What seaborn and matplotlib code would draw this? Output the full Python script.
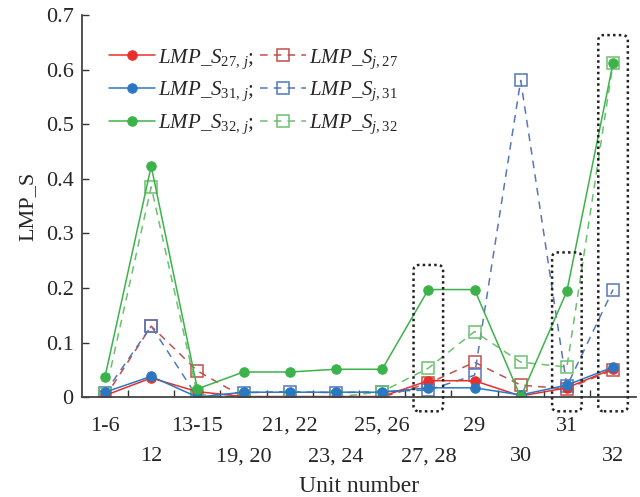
import matplotlib
matplotlib.use("Agg")
import matplotlib.pyplot as plt
import numpy as np
import seaborn as sns
from matplotlib.patches import FancyBboxPatch
from matplotlib.ticker import FixedLocator, FuncFormatter

# unit groups on the x axis
units = ["1-6", "12", "13-15", "19, 20", "21, 22", "23, 24", "25, 26",
         "27, 28", "29", "30", "31", "32"]

# LMP_S values
s27_j = [0.003, 0.035, 0.010, 0.001, 0.001, 0.001, 0.001, 0.030, 0.030, 0.002, 0.017, 0.052]
s31_j = [0.009, 0.038, 0.000, 0.009, 0.009, 0.009, 0.009, 0.017, 0.017, 0.004, 0.022, 0.055]
s32_j = [0.037, 0.423, 0.015, 0.046, 0.046, 0.051, 0.051, 0.197, 0.197, 0.000, 0.194, 0.612]
sj_27 = [0.000, 0.130, 0.048, 0.000, 0.000, 0.000, 0.000, 0.025, 0.064, 0.022, 0.015, 0.050]
sj_31 = [0.008, 0.130, 0.000, 0.008, 0.010, 0.008, 0.010, 0.013, 0.040, 0.580, 0.020, 0.197]
sj_32 = [0.005, 0.385, 0.005, 0.000, 0.000, 0.000, 0.010, 0.053, 0.120, 0.064, 0.055, 0.612]

# highlighted unit groups (dotted boxes)
boxed = ["27, 28", "31", "32"]
box_tops = [0.242, 0.265, 0.663]

sns.set_theme(style="ticks")
plt.rcParams["font.family"] = ["Liberation Serif", "DejaVu Serif"]
plt.rcParams["mathtext.fontset"] = "custom"
plt.rcParams["mathtext.rm"] = "Liberation Serif"
plt.rcParams["mathtext.it"] = "Liberation Serif:italic"

fig = plt.figure(figsize=(6.4, 4.97), dpi=100)
ax = fig.add_axes([0.128, 0.201, 0.866, 0.769])

x = np.arange(len(units))

solid = [
    (s27_j, "#e8302a", r"$LMP\_S_{27,\,j}$;"),
    (s31_j, "#2b78c2", r"$LMP\_S_{31,\,j}$;"),
    (s32_j, "#3cb34a", r"$LMP\_S_{32,\,j}$;"),
]
dashed = [
    (sj_27, "#c0504d", r"$LMP\_S_{j,27}$"),
    (sj_31, "#5577bb", r"$LMP\_S_{j,31}$"),
    (sj_32, "#6cc070", r"$LMP\_S_{j,32}$"),
]

for vals, color, label in dashed:
    sns.lineplot(x=x, y=vals, ax=ax, color=color, linestyle=(0, (5, 4)),
                 linewidth=1.1, marker="s", markersize=8, markerfacecolor="none",
                 markeredgecolor=color, markeredgewidth=1.1, label=label)
for vals, color, label in solid:
    sns.lineplot(x=x, y=vals, ax=ax, color=color, linewidth=1.1,
                 marker="o", markersize=6.8, markeredgecolor=color, label=label)

# dotted boxes around the key units
for name, top in zip(boxed, box_tops):
    i = units.index(name)
    box = FancyBboxPatch((i - 0.32, -0.026), 0.64, top + 0.026,
                         boxstyle="round,pad=0,rounding_size=0.12",
                         mutation_aspect=0.084, fill=False,
                         edgecolor="#222222", linewidth=1.8,
                         linestyle=(0, (1, 1.3)), clip_on=False, zorder=5)
    ax.add_patch(box)

ax.set_xlim(-0.5, len(units) - 0.5)
ax.set_ylim(0, 0.7)

# two staggered rows of unit labels
ax.set_xticks(x[::2])
ax.set_xticklabels(units[::2])
ax.xaxis.set_minor_locator(FixedLocator(np.arange(0.5, len(units) - 1, 1)))
ax.tick_params(axis="x", which="major", length=0, pad=14, labelsize=16)
ax.tick_params(axis="x", which="minor", direction="in", length=5, width=1, color="#333333")
sec = ax.secondary_xaxis("bottom")
sec.set_xticks(x[1::2])
sec.set_xticklabels(units[1::2])
sec.tick_params(axis="x", length=0, pad=36, labelsize=16)
sec.spines["bottom"].set_visible(False)

ax.set_yticks(np.arange(0, 0.71, 0.1))
ax.yaxis.set_major_formatter(FuncFormatter(lambda v, _: f"{v:.1f}" if v > 0.01 else "0"))
ax.tick_params(axis="y", direction="in", length=5, width=1, pad=6, labelsize=16,
               color="#333333")

sns.despine(ax=ax)
for side in ["left", "bottom"]:
    ax.spines[side].set_color("#444444")
    ax.spines[side].set_linewidth(1.3)

sec.set_xlabel("Unit number", fontsize=17, labelpad=7)
ax.set_ylabel("LMP_S", fontsize=16, labelpad=6)

handles, labels = ax.get_legend_handles_labels()
order = [3, 4, 5, 0, 1, 2]
ax.legend([handles[k] for k in order], [labels[k] for k in order], ncol=2,
          loc="upper left", bbox_to_anchor=(0.015, 0.965), frameon=False,
          fontsize=15, handlelength=2.2, handletextpad=0.15, columnspacing=0.3,
          labelspacing=0.45)

fig.savefig("out.png", dpi=100)
